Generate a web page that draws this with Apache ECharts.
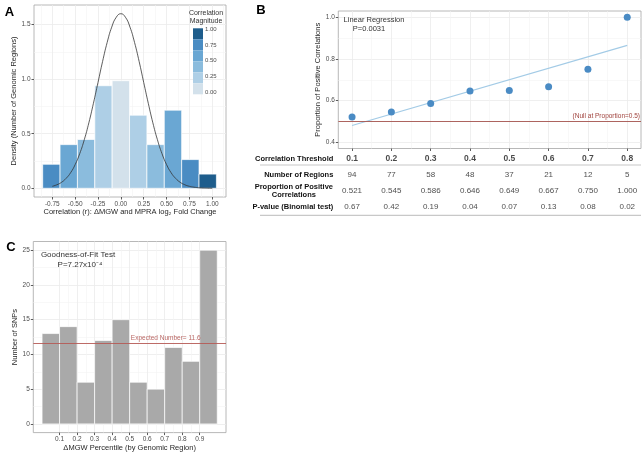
<!DOCTYPE html>
<html><head><meta charset="utf-8">
<script src="https://cdn.jsdelivr.net/npm/echarts@6/dist/echarts.min.js"></script>
<style>html,body{margin:0;padding:0;background:#fff}#c{width:642px;height:453px}</style>
</head><body><div id="c"></div><script>
// ---------- Panel A data ----------
const corrBinCenters = [-0.76, -0.57, -0.38, -0.19, 0, 0.19, 0.38, 0.57, 0.76, 0.95];
const corrBinWidth = 0.19;
const corrDensity = [0.22, 0.40, 0.447, 0.94, 0.986, 0.67, 0.40, 0.716, 0.263, 0.13];
const curvePoints = [
  [-0.75,0.018],[-0.70,0.032],[-0.65,0.054],[-0.60,0.090],[-0.55,0.142],[-0.50,0.217],
  [-0.45,0.317],[-0.40,0.445],[-0.35,0.600],[-0.30,0.779],[-0.25,0.970],[-0.20,1.162],
  [-0.15,1.336],[-0.10,1.477],[-0.05,1.568],[0.00,1.600],[0.05,1.568],[0.10,1.477],
  [0.15,1.336],[0.20,1.162],[0.25,0.970],[0.30,0.779],[0.35,0.600],[0.40,0.445],
  [0.45,0.317],[0.50,0.217],[0.55,0.142],[0.60,0.090],[0.65,0.054],[0.70,0.032],
  [0.75,0.018],[0.80,0.010],[0.85,0.005],[0.90,0.0025],[0.95,0.0012],[1.00,0.0005]
];
const corrXTicks = [-0.75, -0.5, -0.25, 0, 0.25, 0.5, 0.75, 1.0];
const corrXMinor = [-0.875, -0.625, -0.375, -0.125, 0.125, 0.375, 0.625, 0.875, 1.125];
const corrYTicks = [0, 0.5, 1.0, 1.5];
const corrYMinor = [0.25, 0.75, 1.25];
const magnitudeLabels = ['1.00', '0.75', '0.50', '0.25', '0.00'];

// ---------- Panel B data ----------
const thresholds = [0.1, 0.2, 0.3, 0.4, 0.5, 0.6, 0.7, 0.8];
const nRegions = [94, 77, 58, 48, 37, 21, 12, 5];
const propPositive = [0.521, 0.545, 0.586, 0.646, 0.649, 0.667, 0.750, 1.000];
const pValues = ['0.67', '0.42', '0.19', '0.04', '0.07', '0.13', '0.08', '0.02'];
const regressionLine = [[0.1, 0.48], [0.8, 0.865]];
const nullProportion = 0.5;
const propYTicks = [0.4, 0.6, 0.8, 1.0];
const propYMinor = [0.5, 0.7, 0.9];
const threshMinor = [0.15, 0.25, 0.35, 0.45, 0.55, 0.65, 0.75];
const tableRows = ['Correlation Threshold', 'Number of Regions', 'Proportion of Positive\nCorrelations', 'P-value (Binomial test)'];

// ---------- Panel C data ----------
const pctBinStarts = [0, 0.1, 0.2, 0.3, 0.4, 0.5, 0.6, 0.7, 0.8, 0.9];
const pctBinWidth = 0.1;
const snpCounts = [13, 14, 6, 12, 15, 6, 5, 11, 9, 25];
const expectedNumber = 11.6;
const pctXTicks = [0.1, 0.2, 0.3, 0.4, 0.5, 0.6, 0.7, 0.8, 0.9];
const pctXMinor = [0.15, 0.25, 0.35, 0.45, 0.55, 0.65, 0.75, 0.85];
const snpYTicks = [0, 5, 10, 15, 20, 25];
const snpYMinor = [2.5, 7.5, 12.5, 17.5, 22.5];

// ---------- styles ----------
const FONT = 'Liberation Sans, Arial, Helvetica, sans-serif';
const magColors = ['#d3e1eb', '#aecfe6', '#8bbcdd', '#6aa7d3', '#4a8cc3', '#1e5d8c']; // by |r| bin
const tickColor = '#4d4d4d';
const titleColor = '#262626';

function majorAxis(g, min, max, ticks, fmt, opts) {
  opts = opts || {};
  return Object.assign({
    type: 'value', gridIndex: g, min: min, max: max,
    axisLine: { show: false, onZero: false },
    axisTick: { show: true, customValues: ticks, length: 2.5, lineStyle: { color: '#333', width: 0.8 } },
    axisLabel: { customValues: ticks, formatter: fmt, fontSize: 6.5, color: tickColor, margin: 3.5, fontFamily: FONT },
    splitLine: { show: true, lineStyle: { color: '#ebebeb', width: 0.8 } },
    nameTextStyle: { fontSize: 7.5, color: titleColor, fontFamily: FONT },
    nameLocation: 'middle'
  }, opts);
}
function minorAxis(g, min, max, ticks) {
  return {
    type: 'value', gridIndex: g, min: min, max: max,
    axisLine: { show: false, onZero: false },
    axisTick: { show: false, customValues: ticks },
    axisLabel: { show: false, customValues: ticks },
    splitLine: { show: true, lineStyle: { color: '#f4f4f4', width: 0.6 } }
  };
}

const aXMin = -0.95, aXMax = 1.15, aYMin = -0.08, aYMax = 1.68;
const bXMin = 0.065, bXMax = 0.835, bYMin = 0.37, bYMax = 1.03;
const cXMin = -0.05, cXMax = 1.05, cYMin = -1.25, cYMax = 26.25;

const grids = [
  { left: 34, top: 5, width: 192, height: 192 },
  { left: 338.3, top: 11, width: 302.7, height: 137.5 },
  { left: 338.3, top: 151, width: 302.7, height: 64 },
  { left: 33.3, top: 241.5, width: 192.7, height: 192.5 }
].map(g => Object.assign({ show: true, borderColor: '#a6a6a6', borderWidth: 0.8, backgroundColor: 'transparent', containLabel: false }, g));
grids[2].show = false;

const xAxes = [
  majorAxis(0, aXMin, aXMax, corrXTicks, v => v.toFixed(2), { name: 'Correlation (r): ΔMGW and MPRA log₂ Fold Change', nameGap: 10.5 }),
  minorAxis(0, aXMin, aXMax, corrXMinor),
  majorAxis(1, bXMin, bXMax, thresholds, v => v.toFixed(1)),
  minorAxis(1, bXMin, bXMax, threshMinor),
  { type: 'value', gridIndex: 2, min: bXMin, max: bXMax, show: false },
  majorAxis(3, cXMin, cXMax, pctXTicks, v => v.toFixed(1), { name: 'ΔMGW Percentile (by Genomic Region)', nameGap: 10 }),
  minorAxis(3, cXMin, cXMax, pctXMinor)
];
xAxes[2].axisLabel.show = false;

const yAxes = [
  majorAxis(0, aYMin, aYMax, corrYTicks, v => v.toFixed(1), { name: 'Density (Number of Genomic Regions)', nameGap: 14 }),
  minorAxis(0, aYMin, aYMax, corrYMinor),
  majorAxis(1, bYMin, bYMax, propYTicks, v => v.toFixed(1), { name: 'Proportion of Positive Correlations', nameGap: 15.5 }),
  minorAxis(1, bYMin, bYMax, propYMinor),
  {
    type: 'category', gridIndex: 2, data: tableRows, inverse: true,
    axisLine: { show: false, onZero: false }, axisTick: { show: false }, splitLine: { show: false },
    axisLabel: {
      margin: 5, fontSize: 7.5, fontWeight: 'bold', color: '#111', fontFamily: FONT,
      formatter: v => v.indexOf('\n') >= 0 ? v.split('\n').map(s => '{c|' + s + '}').join('\n') : v,
      rich: { c: { width: 79, align: 'center', fontSize: 7.5, fontWeight: 'bold', color: '#111', fontFamily: FONT, lineHeight: 8.5 } }
    }
  },
  majorAxis(3, cYMin, cYMax, snpYTicks, v => String(v), { name: 'Number of SNPs', nameGap: 13 }),
  minorAxis(3, cYMin, cYMax, snpYMinor)
];

function histRender(colorFn, stroke) {
  return function (params, api) {
    const x0 = api.value(0), x1 = api.value(1), h = api.value(2);
    const p0 = api.coord([x0, h]);
    const p1 = api.coord([x1, 0]);
    return {
      type: 'rect',
      shape: { x: p0[0], y: p0[1], width: p1[0] - p0[0], height: p1[1] - p0[1] },
      style: { fill: colorFn(x0, x1), stroke: stroke, lineWidth: 0.7 }
    };
  };
}

const corrHistData = corrBinCenters.map((c, i) => [c - corrBinWidth / 2, c + corrBinWidth / 2, corrDensity[i]]);
const pctHistData = pctBinStarts.map((s, i) => [s, s + pctBinWidth, snpCounts[i]]);

function tableRowSeries(rowIdx, fmt, bold) {
  return {
    type: 'scatter', xAxisIndex: 4, yAxisIndex: 4, symbolSize: 1, itemStyle: { color: 'rgba(0,0,0,0)' },
    silent: true, z: 5,
    data: thresholds.map((t, i) => [t, rowIdx]),
    label: {
      show: true, position: 'inside', formatter: p => fmt(p.dataIndex),
      fontSize: bold ? 8.5 : 8, fontWeight: bold ? 'bold' : 'normal', color: '#1a1a1a', fontFamily: FONT
    }
  };
}

const series = [
  // Panel A histogram
  {
    type: 'custom', xAxisIndex: 0, yAxisIndex: 0, data: corrHistData, clip: false,
    renderItem: histRender((x0, x1) => magColors[Math.round(Math.abs((x0 + x1) / 2) / corrBinWidth)], '#ffffff'),
    z: 2
  },
  {
    type: 'line', xAxisIndex: 0, yAxisIndex: 0, data: curvePoints, smooth: true, showSymbol: false,
    lineStyle: { color: '#333', width: 0.8 }, z: 3, silent: true
  },
  // Panel B
  {
    type: 'line', xAxisIndex: 2, yAxisIndex: 2, data: regressionLine, showSymbol: false,
    lineStyle: { color: '#a3cbe6', width: 1.1 }, z: 3, silent: true,
    markLine: {
      silent: true, symbol: 'none',
      lineStyle: { color: '#a4524d', width: 0.9, type: 'solid' },
      label: { show: true, position: 'insideEndTop', formatter: '(Null at Proportion=0.5)', color: '#a0433d', fontSize: 6.5, fontFamily: FONT, distance: [1, 1.5] },
      data: [{ yAxis: nullProportion }]
    }
  },
  {
    type: 'scatter', xAxisIndex: 2, yAxisIndex: 2, data: thresholds.map((t, i) => [t, propPositive[i]]),
    symbolSize: 7, itemStyle: { color: '#4a8bc4', opacity: 1 }, z: 4
  },
  // Table rows
  tableRowSeries(0, i => thresholds[i].toFixed(1), true),
  tableRowSeries(1, i => String(nRegions[i]), false),
  tableRowSeries(2, i => propPositive[i].toFixed(3), false),
  tableRowSeries(3, i => pValues[i], false),
  // Panel C
  {
    type: 'custom', xAxisIndex: 5, yAxisIndex: 5, data: pctHistData, clip: false,
    renderItem: histRender(() => '#a9a9a9', '#ffffff'), z: 2,
    markLine: {
      silent: true, symbol: 'none',
      lineStyle: { color: '#b55a56', width: 0.9, type: 'solid' },
      label: { show: false },
      data: [{ yAxis: expectedNumber }]
    }
  },
  {
    type: 'scatter', xAxisIndex: 5, yAxisIndex: 5, data: [[0.706, expectedNumber]], symbolSize: 1,
    itemStyle: { color: 'rgba(0,0,0,0)' }, silent: true, z: 4,
    label: { show: true, position: 'top', distance: 1, formatter: 'Expected Number= ' + expectedNumber, color: '#a8403c', fontSize: 6.5, fontFamily: FONT }
  }
];

// Decorations: panel letters, annotations, legend, table rules
const graphic = [];
function txt(x, y, text, size, opts) {
  graphic.push({
    type: 'text', x: x, y: y, silent: true, z: 10,
    style: Object.assign({ text: text, fontSize: size, fontFamily: FONT, fill: titleColor, textAlign: 'center', textVerticalAlign: 'middle' }, opts || {})
  });
}
txt(9.5, 12, 'A', 13, { fontWeight: 'bold', fill: '#000' });
txt(261, 10, 'B', 13, { fontWeight: 'bold', fill: '#000' });
txt(11, 247, 'C', 13, { fontWeight: 'bold', fill: '#000' });
txt(374, 20, 'Linear Regression', 7.5, { fill: '#333' });
txt(369, 29, 'P=0.0031', 7.5, { fill: '#333' });
txt(78, 255, 'Goodness-of-Fit Test', 8, { fill: '#333' });
txt(80, 264.5, 'P=7.27x10⁻⁴', 8, { fill: '#333' });
// legend (colour bar)
txt(206, 12.7, 'Correlation', 7, { fill: '#333' });
txt(206, 20.7, 'Magnitude', 7, { fill: '#333' });
const swTop = 28.3, swH = 11;
magColors.slice().reverse().forEach((c, i) => {
  graphic.push({ type: 'rect', silent: true, z: 10, shape: { x: 193, y: swTop + i * swH, width: 10, height: swH }, style: { fill: c } });
});
magnitudeLabels.forEach((l, i) => {
  txt(205, 29.3 + i * 15.75, l, 6, { fill: tickColor, textAlign: 'left' });
});
// table rules
[165, 215.3].forEach(y => {
  graphic.push({ type: 'line', silent: true, z: 10, shape: { x1: 260, y1: y, x2: 641, y2: y }, style: { stroke: '#c8c8c8', lineWidth: 1.2 } });
});

const chart = echarts.init(document.getElementById('c'), null, { renderer: 'canvas' });
chart.setOption({
  animation: false,
  backgroundColor: '#ffffff',
  textStyle: { fontFamily: FONT },
  grid: grids,
  xAxis: xAxes,
  yAxis: yAxes,
  series: series,
  graphic: graphic
});
</script></body></html>
